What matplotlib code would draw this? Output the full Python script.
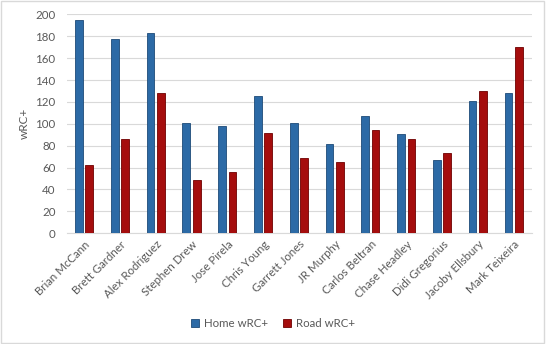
import matplotlib
matplotlib.use('Agg')

import matplotlib.pyplot as plt
import matplotlib.patches as mpatches
import numpy as np

players = ["Brian McCann", "Brett Gardner", "Alex Rodriguez", "Stephen Drew",
           "Jose Pirela", "Chris Young", "Garrett Jones", "JR Murphy",
           "Carlos Beltran", "Chase Headley", "Didi Gregorius",
           "Jacoby Ellsbury", "Mark Teixeira"]
home_wrc = [195, 178, 183, 101, 98, 125, 101, 82, 107, 91, 67, 121, 128]
road_wrc = [62, 86, 128, 49, 56, 92, 69, 65, 94, 86, 73, 130, 170]
yticks = list(range(0, 201, 20))

plt.rcParams['font.family'] = ['Lato', 'DejaVu Sans']
text_col = "#595959"

fig = plt.figure(figsize=(5.46, 3.44), dpi=100)
ax = fig.add_axes([0.122, 0.322, 0.852, 0.636])

x = np.arange(len(players))
w = 0.215
ax.bar(x - 0.155, home_wrc, width=w, color="#2c6aa6", edgecolor="#1d4a78",
       linewidth=0.6, label="Home wRC+", zorder=3)
ax.bar(x + 0.135, road_wrc, width=w, color="#a50d0d", edgecolor="#6e0000",
       linewidth=0.6, label="Road wRC+", zorder=3)

ax.set_xlim(-0.5, len(players) - 0.5)
ax.set_ylim(0, 200)
ax.set_yticks(yticks)
ax.set_xticks(x)
ax.set_xticklabels(players, rotation=45, ha='right', rotation_mode='anchor',
                   fontsize=8.3, color=text_col)
ax.tick_params(axis='y', labelsize=8.3, labelcolor=text_col, length=0, pad=8)
ax.tick_params(axis='x', length=0, pad=4)
ax.grid(axis='y', color="#d9d9d9", linewidth=0.8, zorder=0)
for s in ["top", "right", "left"]:
    ax.spines[s].set_visible(False)
ax.spines["bottom"].set_color("#d9d9d9")
ax.set_ylabel("wRC+", fontsize=8.5, color=text_col, labelpad=4)

ax.legend(loc='center', bbox_to_anchor=(0.5, 0.06), bbox_transform=fig.transFigure,
          ncol=2, frameon=False, fontsize=8.3, labelcolor=text_col,
          handlelength=0.7, handleheight=0.7, columnspacing=1.3, handletextpad=0.4)

fig.patches.append(mpatches.Rectangle((0.002, 0.003), 0.995, 0.993, transform=fig.transFigure,
                                      fill=False, edgecolor="#d9d9d9", linewidth=1))

plt.savefig("out.png", dpi=100)
plt.close()
